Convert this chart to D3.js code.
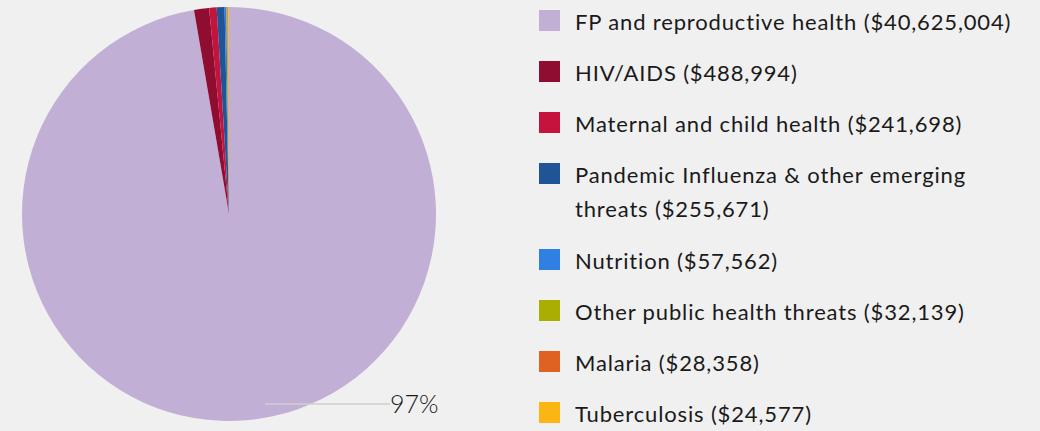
<!DOCTYPE html>
<html>
<head>
<meta charset="utf-8">
<script src="https://cdn.jsdelivr.net/npm/d3@7"></script>
<style>
  html, body { margin: 0; padding: 0; background: #f0f0f0; }
  svg { display: block; }
  text { font-family: Lato, "Open Sans", sans-serif; fill: #1a1a1a; font-variant-ligatures: none; }
</style>
</head>
<body>
<svg></svg>
<script>
const categories = [
  'FP and reproductive health',
  'HIV/AIDS',
  'Maternal and child health',
  'Pandemic Influenza & other emerging threats',
  'Nutrition',
  'Other public health threats',
  'Malaria',
  'Tuberculosis'
];
const values = [40625004, 488994, 241698, 255671, 57562, 32139, 28358, 24577];
const colors = ['#c1afd5', '#8e0d30', '#c4143e', '#1f5496', '#2f80e2', '#a9ae00', '#e06222', '#fbb614'];

const width = 1040;
const height = 431;

const svg = d3.select('svg').attr('width', width).attr('height', height);

const cx = 229;
const cy = 214;
const radius = 207;

const data = categories.map((c, i) => ({ name: c, value: values[i], color: colors[i] }));
const total = d3.sum(values);

const pie = d3.pie().sort(null).value((d) => d.value);
const arc = d3.arc().innerRadius(0).outerRadius(radius);

const g = svg.append('g').attr('transform', 'translate(' + cx + ',' + cy + ')');

const arcs = pie(data);

g.selectAll('path')
  .data(arcs)
  .enter()
  .append('path')
  .attr('d', arc)
  .attr('fill', (d) => d.data.color);

// label for the big slice only
const big = arcs[0];
const mid = (big.startAngle + big.endAngle) / 2;
const labelY = 190;
const startX = Math.sin(mid) * (labelY / -Math.cos(mid)) + 20;
g.append('line')
  .attr('x1', startX)
  .attr('y1', labelY)
  .attr('x2', 161)
  .attr('y2', labelY)
  .attr('stroke', '#cfcfcf')
  .attr('stroke-width', 1.5);

g.append('text')
  .attr('x', 161)
  .attr('y', labelY)
  .attr('dy', '0.35em')
  .style('font-size', '25px')
  .style('font-weight', 300)
  .text(d3.format('.0%')(big.value / total));

// legend
const legend = svg.append('g').attr('transform', 'translate(539, 0)');
const maxTextWidth = 455;
let y = 10;

data.forEach((d) => {
  const row = legend.append('g').attr('transform', 'translate(0,' + y + ')');
  row.append('rect')
    .attr('width', 21)
    .attr('height', 21)
    .attr('fill', d.color);

  const text = row.append('text')
    .attr('x', 36)
    .attr('y', 20)
    .style('font-size', '22px')
    .style('letter-spacing', '0.85px');

  const words = (d.name + ' (' + d3.format('$,')(d.value) + ')').split(' ');
  let line = [];
  let tspan = text.append('tspan').attr('x', 36).attr('y', 20);
  let lines = 1;
  words.forEach((w) => {
    line.push(w);
    tspan.text(line.join(' '));
    if (tspan.node().getComputedTextLength() > maxTextWidth && line.length > 1) {
      line.pop();
      tspan.text(line.join(' '));
      line = [w];
      tspan = text.append('tspan')
        .attr('x', 36)
        .attr('y', 20 + lines * 34)
        .text(w);
      lines += 1;
    }
  });

  y += 51 + (lines - 1) * 35;
});
</script>
</body>
</html>
